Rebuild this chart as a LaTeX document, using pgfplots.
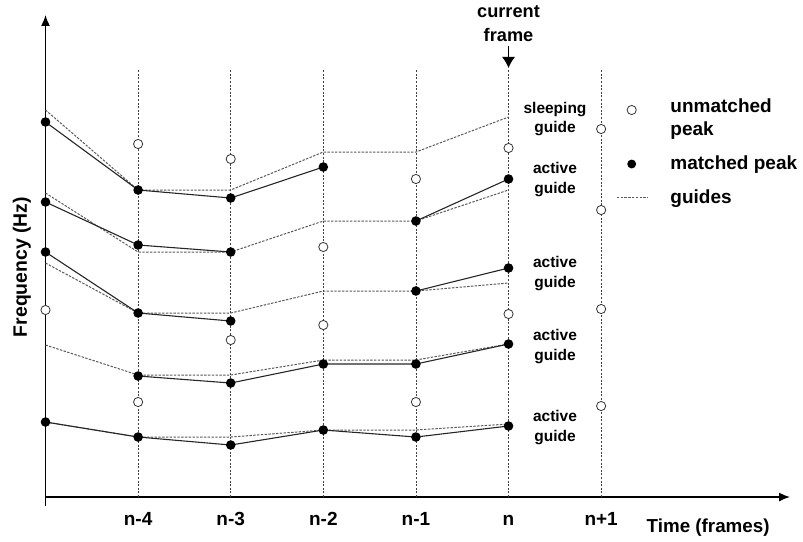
\documentclass[border=0pt]{standalone}
\usepackage{pgfplots}
\pgfplotsset{compat=1.18}
\usetikzlibrary{arrows.meta}
\usepackage{fontspec}
\setmainfont{Liberation Sans}
\begin{document}
\begin{tikzpicture}[
  guide/.style={black!65, line width=0.5pt, dash pattern=on 1.2pt off 0.7pt},
  frame/.style={black!75, line width=0.4pt, dash pattern=on 1pt off 0.8pt},
  peakline/.style={black!85, line width=0.55pt, mark=*, mark size=2.1pt, mark options={solid, fill=black, draw=black}},
  open/.style={only marks, mark=*, mark size=2.3pt, mark options={fill=white, draw=black!80, line width=0.4pt}},
  lbl/.style={font=\fontsize{7.75}{9}\selectfont\bfseries, anchor=base, inner sep=0pt},
  leg/.style={font=\fontsize{9.5}{11}\selectfont\bfseries, anchor=base west, inner sep=0pt},
]
\begin{axis}[
  scale only axis, width=372.25pt, height=241pt,
  xmin=0, xmax=8.04, ymin=0, ymax=482,
  axis x line=bottom, axis y line=left,
  axis line style={line width=0.75pt, -{Latex[length=5.5pt,width=4.5pt]}},
  xtick={1,2,3,4,5,6}, xticklabels={n-4,n-3,n-2,n-1,n,n+1},
  ytick=\empty,
  major tick length=0pt,
  xticklabel style={font=\fontsize{9.5}{11}\selectfont\bfseries, anchor=base, yshift=-14pt, inner sep=0pt},
  xlabel={Time (frames)},
  every axis x label/.style={at={(axis description cs:0.890,-0.0726)}, anchor=base, font=\fontsize{9.4}{11}\selectfont\bfseries, inner sep=0pt},
  ylabel={Frequency (Hz)},
  every axis y label/.style={at={(axis description cs:-0.0316,0.477)}, rotate=90, anchor=center, font=\fontsize{9.7}{11}\selectfont\bfseries, inner sep=0pt},
  clip=false, unbounded coords=jump,
]
% frame lines
\pgfplotsinvokeforeach{1,...,6}{\addplot[frame] coordinates {(#1,0) (#1,427)};}
% guides
\addplot[guide] coordinates {(0,387) (1,307) (2,307) (3,345) (4,345) (5,380)};
\addplot[guide] coordinates {(0,304) (1,245) (2,245) (3,276) (4,276) (5,307)};
\addplot[guide] coordinates {(0,234) (1,184) (2,184) (3,206) (4,206) (5,214)};
\addplot[guide] coordinates {(0,152) (1,122) (2,122) (3,137) (4,137) (5,153)};
\addplot[guide] coordinates {(0,75) (1,60) (2,60) (3,67) (4,67) (5,73)};
% matched peaks
\addplot[peakline] coordinates {(0,375) (1,307) (2,299) (3,330)};
\addplot[peakline] coordinates {(0,295) (1,252) (2,245) (3,nan) (4,276) (5,318)};
\addplot[peakline] coordinates {(0,245) (1,184) (2,176) (3,nan) (4,206) (5,229)};
\addplot[peakline] coordinates {(1,121) (2,114) (3,133) (4,133) (5,153)};
\addplot[peakline] coordinates {(0,75) (1,60) (2,52) (3,67) (4,60) (5,71)};
% unmatched peaks
\addplot[open] coordinates {(0,187) (1,353) (2,338) (1,95) (2,157) (3,250) (3,172)
  (4,318) (4,95) (5,349) (5,183) (6,368) (6,287) (6,188) (6,91)};
% legend
\addplot[open] coordinates {(6.33,387)};
\addplot[only marks, mark=*, mark size=2pt, mark options={fill=black,draw=black}] coordinates {(6.33,333)};
\addplot[guide] coordinates {(6.17,300) (6.50,300)};
\node[leg] at (axis cs:6.744,385) {unmatched};
\node[leg] at (axis cs:6.744,362) {peak};
\node[leg] at (axis cs:6.744,328) {matched peak};
\node[leg] at (axis cs:6.744,294) {guides};
% guide labels
\node[lbl] at (axis cs:5.502,384) {sleeping};
\node[lbl] at (axis cs:5.502,365) {guide};
\node[lbl] at (axis cs:5.502,324) {active};
\node[lbl] at (axis cs:5.502,304) {guide};
\node[lbl] at (axis cs:5.502,230) {active};
\node[lbl] at (axis cs:5.502,210) {guide};
\node[lbl] at (axis cs:5.502,157) {active};
\node[lbl] at (axis cs:5.502,137) {guide};
\node[lbl] at (axis cs:5.502,76) {active};
\node[lbl] at (axis cs:5.502,56) {guide};
% current frame
\node[font=\fontsize{9.1}{11}\selectfont\bfseries, anchor=base, inner sep=0pt] at (axis cs:5,479) {current};
\node[font=\fontsize{9.1}{11}\selectfont\bfseries, anchor=base, inner sep=0pt] at (axis cs:5,455) {frame};
\draw[black, line width=0.6pt, -{Latex[length=5.5pt,width=6.5pt]}] (axis cs:5,451) -- (axis cs:5,429);
% small extension of the y axis below the x axis
\draw[black, line width=0.75pt] (axis cs:0,0) -- (axis cs:0,-9);
\coordinate (BL) at (axis cs:-0.4914,-44);
\coordinate (TR) at (axis cs:8.180,497);
\end{axis}
\pgfresetboundingbox
\path (BL) rectangle (TR);
\end{tikzpicture}
\end{document}
